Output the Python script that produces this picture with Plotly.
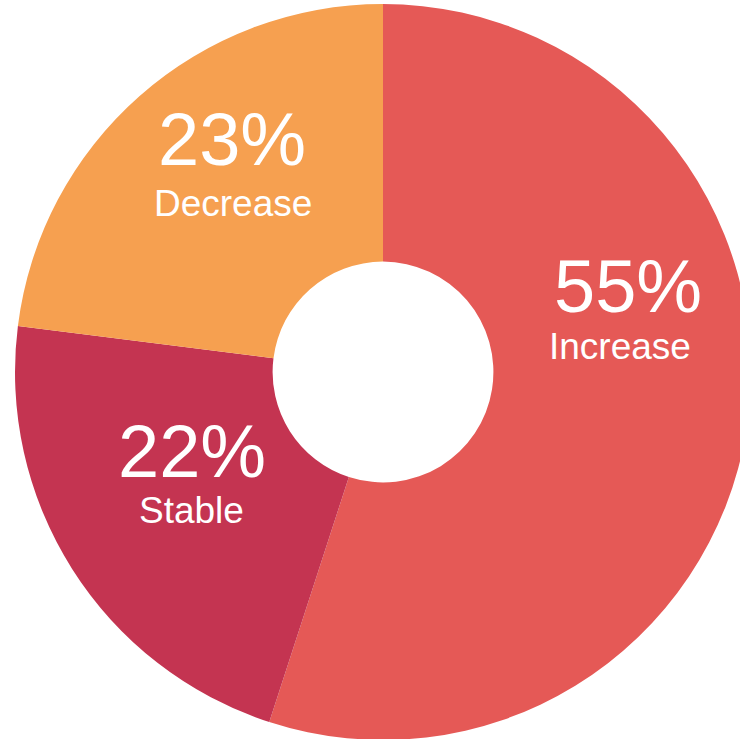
import plotly.graph_objects as go

labels = ["Increase", "Stable", "Decrease"]
values = [55, 22, 23]
colors = ["#E55956", "#C43451", "#F6A050"]

# text anchor positions (page pixels from top-left) for percent and label
pct_pos = [(628, 287), (192, 451), (232, 140)]
lab_pos = [(620, 346), (191, 510), (233, 203)]

W, H = 760, 745
# pie circle box in page pixels: left, right, top, bottom
BOX = (15, 751, 4, 740)

fig = go.Figure(go.Pie(
    labels=labels,
    values=values,
    hole=0.3,
    sort=False,
    direction="clockwise",
    rotation=0,
    marker=dict(colors=colors, line=dict(width=0)),
    textinfo="none",
    showlegend=False,
    domain=dict(x=[BOX[0] / W, BOX[1] / W], y=[1 - BOX[3] / H, 1 - BOX[2] / H]),
))

annotations = []
for lab, val, (px, py), (lx, ly) in zip(labels, values, pct_pos, lab_pos):
    annotations.append(dict(
        x=px / W, y=1 - py / H, xref="paper", yref="paper",
        text=f"{val}%", showarrow=False, xanchor="center", yanchor="middle",
        font=dict(family="Liberation Sans, Arial, sans-serif", size=74, color="white"),
    ))
    annotations.append(dict(
        x=lx / W, y=1 - ly / H, xref="paper", yref="paper",
        text=lab, showarrow=False, xanchor="center", yanchor="middle",
        font=dict(family="Liberation Sans, Arial, sans-serif", size=37, color="white"),
    ))

fig.update_layout(
    width=W, height=H,
    margin=dict(l=0, r=0, t=0, b=0),
    paper_bgcolor="white",
    plot_bgcolor="white",
    annotations=annotations,
)

fig.write_html(
    "out.html",
    config={"displayModeBar": False},
    post_script="document.body.style.margin='0';document.body.style.overflow='hidden';"
                "document.documentElement.style.overflow='hidden';",
)
